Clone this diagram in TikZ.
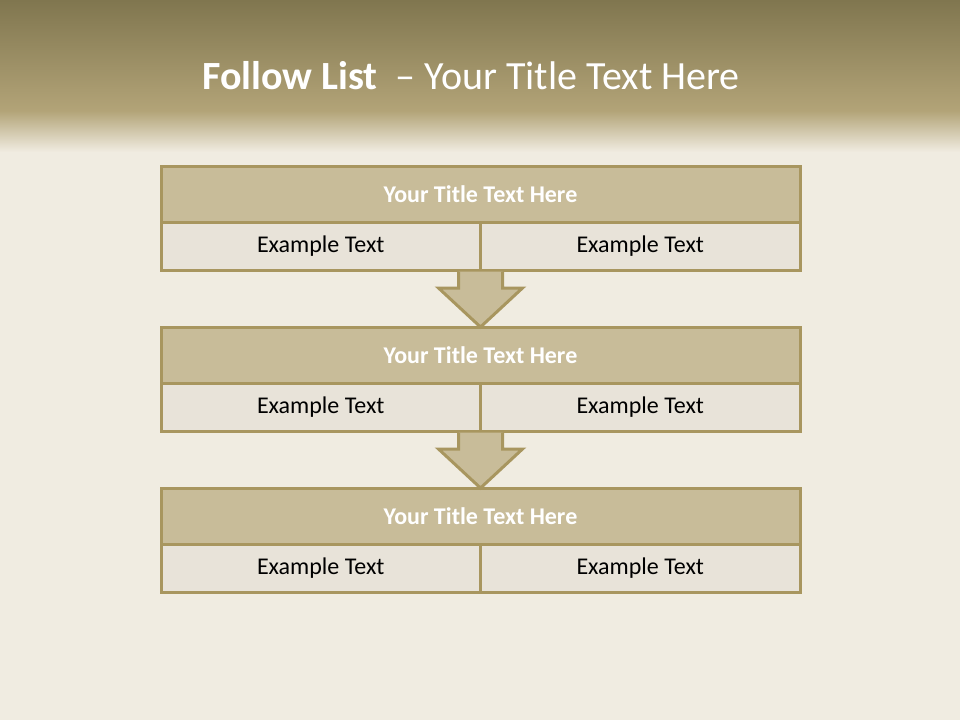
\documentclass[tikz,border=0pt]{standalone}
\usepackage{fontspec}
\setmainfont{Carlito}
\usetikzlibrary{calc,positioning}

\definecolor{bandtop}{HTML}{80764F}
\definecolor{bandbot}{HTML}{B3A478}
\definecolor{knit}{HTML}{F0ECE1}
\definecolor{rim}{HTML}{A8965F}
\definecolor{headfill}{HTML}{C8BC99}
\definecolor{cellfill}{HTML}{E8E3D9}

\begin{document}
\begin{tikzpicture}[x=1pt,y=-1pt,line width=3pt,
    headcell/.style={draw=rim,fill=headfill,minimum width=639pt,minimum height=56pt,
      inner sep=0pt,outer sep=0pt,text=white,font=\fontsize{24}{28}\selectfont\bfseries},
    cell/.style={draw=rim,fill=cellfill,minimum width=319.5pt,minimum height=48pt,
      inner sep=0pt,outer sep=0pt,text=black,font=\fontsize{24}{28}\selectfont},
    flowarrow/.style={draw=rim,fill=headfill,line join=miter}]
  % Page and title band
  \useasboundingbox (0,0) rectangle (960,720);
  \fill[knit] (0,0) rectangle (960,720);
  \shade[top color=bandtop,bottom color=bandbot] (0,0) rectangle (960,112);
  \shade[top color=bandbot,bottom color=knit] (0,111) rectangle (960,152);
  \node[text=white,font=\fontsize{40}{48}\selectfont] (title) at (471,76)
    {{\bfseries Follow List}\ \ – Your Title Text Here};

  % --- Block 1 ---
  \node[headcell] (h1) at (480.5,194) {Your Title Text Here};
  \node[cell,anchor=north west] (l1) at (h1.south west) {Example Text};
  \node[cell,anchor=north east] (r1) at (h1.south east) {Example Text};

  % --- Block 2 ---
  \node[headcell,anchor=north] (h2) at ($(l1.south east)+(0,57)$) {Your Title Text Here};
  \node[cell,anchor=north west] (l2) at (h2.south west) {Example Text};
  \node[cell,anchor=north east] (r2) at (h2.south east) {Example Text};

  % --- Block 3 ---
  \node[headcell,anchor=north] (h3) at ($(l2.south east)+(0,57)$) {Your Title Text Here};
  \node[cell,anchor=north west] (l3) at (h3.south west) {Example Text};
  \node[cell,anchor=north east] (r3) at (h3.south east) {Example Text};

  % Block arrows between the blocks
  \draw[flowarrow] ($(l1.south east)+(-22,1.5)$) -- ++(0,16.5) -- ++(-20,0) -- (h2.north)
    -- ++(42,-39) -- ++(-20,0) -- ($(l1.south east)+(22,1.5)$);
  \draw[flowarrow] ($(l2.south east)+(-22,1.5)$) -- ++(0,16.5) -- ++(-20,0) -- (h3.north)
    -- ++(42,-39) -- ++(-20,0) -- ($(l2.south east)+(22,1.5)$);
\end{tikzpicture}
\end{document}
